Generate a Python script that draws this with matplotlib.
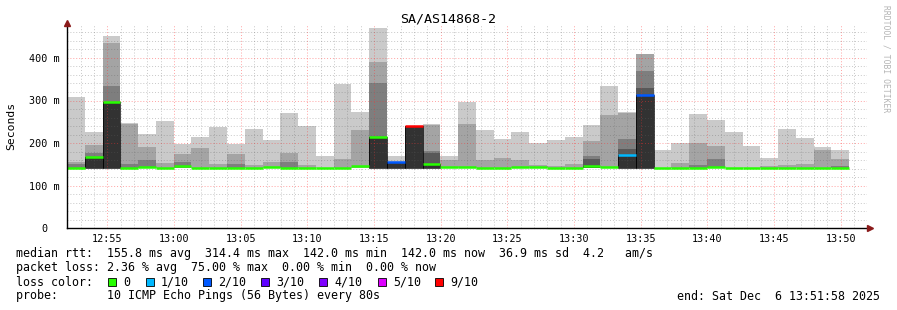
import numpy as np
import matplotlib
matplotlib.use("Agg")
import matplotlib.pyplot as plt
from matplotlib.ticker import MultipleLocator, FixedLocator, FixedFormatter

# smokeping data, one entry per 80 s step, values in ms (oldest first)
max_ping = [309, 227, 451, 247, 221, 252, 197, 215, 238, 199, 233, 207, 271, 239, 170,
            339, 273, 470, 170, 239, 244, 170, 297, 231, 210, 226, 200, 207, 215, 243,
            334, 273, 409, 184, 200, 268, 254, 226, 194, 165, 233, 212, 191, 184]
smoke2 = [156, 195, 436, 245, 191, 153, 174, 189, 151, 174, 149, 156, 177, 149, 142,
          163, 230, 391, 142, 142, 243, 160, 245, 160, 165, 160, 149, 146, 151, 206,
          266, 270, 408, 142, 153, 200, 193, 142, 142, 146, 149, 151, 184, 163]
smoke3 = [150, 176, 334, 150, 160, 142, 156, 142, 142, 151, 142, 142, 156, 142, 142,
          142, 142, 342, 142, 142, 182, 142, 142, 142, 142, 142, 142, 142, 142, 170,
          142, 210, 370, 142, 142, 149, 163, 142, 142, 142, 142, 142, 142, 146]
smoke4 = [142, 142, 142, 142, 142, 142, 142, 142, 142, 142, 142, 142, 142, 142, 142,
          142, 142, 142, 142, 142, 176, 142, 142, 142, 142, 142, 142, 142, 142, 162,
          142, 187, 329, 142, 142, 142, 142, 142, 142, 142, 142, 142, 142, 142]
smoke5 = [142, 168, 296, 142, 142, 142, 142, 142, 142, 142, 142, 142, 142, 142, 142,
          142, 142, 215, 156, 239, 150, 142, 142, 142, 142, 142, 142, 142, 142, 146,
          142, 173, 314, 142, 142, 142, 142, 142, 142, 142, 142, 142, 142, 142]
min_ping = [141, 142, 141, 141, 141, 141, 141, 141, 141, 141, 141, 141, 141, 141, 141,
            141, 141, 141, 142, 142, 141, 141, 141, 141, 141, 141, 141, 141, 141, 141,
            141, 141, 141, 141, 141, 141, 141, 141, 141, 141, 141, 141, 141, 141]
median = [142, 168, 296, 142, 144, 142, 146, 142, 142, 142, 142, 145, 142, 142, 142,
          142, 146, 215, 156, 239, 150, 144, 144, 142, 142, 144, 143, 142, 142, 146,
          143, 173, 314, 142, 142, 142, 144, 142, 142, 142, 142, 142, 142, 142]
lost = [0, 0, 0, 0, 0, 0, 0, 0, 0, 0, 0, 0, 0, 0, 0,
        0, 0, 0, 2, 9, 0, 0, 0, 0, 0, 0, 0, 0, 0, 0,
        0, 1, 2, 0, 0, 0, 0, 0, 0, 0, 0, 0, 0, 0]

loss_labels = ["0", "1/10", "2/10", "3/10", "4/10", "5/10", "9/10"]
loss_colors = ["#26ff00", "#00b8ff", "#0059ff", "#5e00ff", "#7e00ff", "#dd00ff", "#ff0000"]

smoke_colors = ["#cacaca", "#a4a4a4", "#7e7e7e", "#585858", "#323232"]

MONO = "DejaVu Sans Mono"
W, H = 897, 310

# time axis in minutes after 12:00, window 12:51:58 .. 13:51:58
t_start = 51 + 58 / 60
step = 80 / 60


def loss_color(n):
    if n >= 6:
        return loss_colors[-1]
    return loss_colors[n]


fig = plt.figure(figsize=(W / 100, H / 100), dpi=100)
fig.patch.set_facecolor("white")

left, right, top, bottom = 67, 867, 25, 228.3
ax = fig.add_axes([left / W, 1 - bottom / H, (right - left) / W, (bottom - top) / H])

n = len(max_ping)
lefts = t_start + np.arange(n) * step
lo = np.array(min_ping)

for vals, c in zip([max_ping, smoke2, smoke3, smoke4, smoke5], smoke_colors):
    hi = np.array(vals)
    ax.bar(lefts, hi - lo, bottom=lo, width=step, align="edge", color=c,
           linewidth=0, zorder=2)

# dark loss boxes get a thin black outline
for i in range(n):
    if smoke5[i] - min_ping[i] > 5:
        ax.bar(lefts[i], smoke5[i] - min_ping[i], bottom=min_ping[i], width=step,
               align="edge", fill=False, edgecolor="#000000", linewidth=0.5, zorder=3)

ax.hlines(median, lefts, lefts + step, colors=[loss_color(v) for v in lost],
          linewidth=1.8, zorder=4)

ax.set_xlim(t_start, t_start + 60)
ax.set_ylim(0, (bottom - top) / 0.426)

xt = list(range(55, 111, 5))
ax.xaxis.set_major_locator(FixedLocator(xt))
ax.xaxis.set_major_formatter(FixedFormatter(["%d:%02d" % (12 + m // 60, m % 60) for m in xt]))
ax.xaxis.set_minor_locator(MultipleLocator(1))
ax.yaxis.set_major_locator(FixedLocator([0, 100, 200, 300, 400]))
ax.yaxis.set_major_formatter(FixedFormatter(["0  ", "100 m", "200 m", "300 m", "400 m"]))
ax.yaxis.set_minor_locator(MultipleLocator(20))

# rrdtool puts a semi-transparent grid over the graph
ax.grid(which="minor", color="#606060", alpha=0.35, linestyle=(0, (1, 2)), linewidth=0.7, zorder=5)
ax.grid(which="major", color="#ff3030", alpha=0.45, linestyle=(0, (1, 2)), linewidth=0.7, zorder=5)
ax.set_axisbelow(False)

ax.tick_params(which="both", length=0)
ax.tick_params(axis="x", pad=4, labelsize=7.3)
ax.tick_params(axis="y", pad=5, labelsize=7.3)
for lab in ax.get_xticklabels() + ax.get_yticklabels():
    lab.set_family(MONO)

for s in ["top", "right"]:
    ax.spines[s].set_visible(False)
for s in ["left", "bottom"]:
    ax.spines[s].set_color("#000000")
    ax.spines[s].set_linewidth(1.0)
    ax.spines[s].set_zorder(6)
ax.spines["bottom"].set_bounds(t_start, t_start + 60.2)

# axis arrows
ax.plot([0], [1.01], marker="^", color="#8b1a1a", markersize=4, transform=ax.transAxes,
        clip_on=False, zorder=7)
ax.plot([1.004], [0], marker=">", color="#8b1a1a", markersize=4, transform=ax.transAxes,
        clip_on=False, zorder=7)


def fx(x):
    return x / W


def fy(y):
    return 1 - y / H


fig.text(fx(448), fy(19), "SA/AS14868-2", family=MONO, fontsize=9.6, ha="center", va="center")
fig.text(fx(11), fy(126), "Seconds", family=MONO, fontsize=8.2, rotation=90,
         ha="center", va="center")
fig.text(fx(886), fy(5), "RRDTOOL / TOBI OETIKER", family=MONO, fontsize=5.8,
         rotation=270, ha="center", va="top", color="#b4b4b4")

fs = 8.4
fig.text(fx(16), fy(254), "median rtt:  155.8 ms avg  314.4 ms max  142.0 ms min  "
         "142.0 ms now  36.9 ms sd  4.2   am/s", family=MONO, fontsize=fs, va="center")
fig.text(fx(16), fy(268), "packet loss: 2.36 % avg  75.00 % max  0.00 % min  0.00 % now",
         family=MONO, fontsize=fs, va="center")
fig.text(fx(16), fy(282), "loss color:", family=MONO, fontsize=fs, va="center")
box_x = [108, 146, 203, 261, 319, 378, 435]
for bx, lab, c in zip(box_x, loss_labels, loss_colors):
    fig.patches.append(plt.Rectangle((fx(bx), fy(286)), 8 / W, 8 / H, transform=fig.transFigure,
                                     facecolor=c, edgecolor="#000000", linewidth=0.6))
    fig.text(fx(bx + 15), fy(282), lab, family=MONO, fontsize=fs, va="center")
fig.text(fx(16), fy(296), "probe:       10 ICMP Echo Pings (56 Bytes) every 80s",
         family=MONO, fontsize=fs, va="center")
fig.text(fx(880), fy(296), "end: Sat Dec  6 13:51:58 2025", family=MONO, fontsize=fs,
         va="center", ha="right")

fig.savefig("out.png", dpi=100)
